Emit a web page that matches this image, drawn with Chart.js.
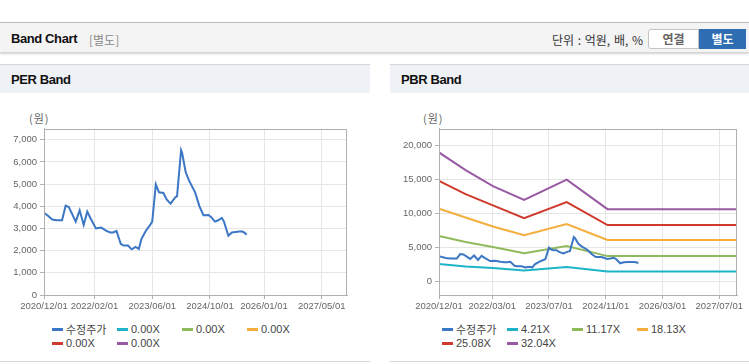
<!DOCTYPE html>
<html><head><meta charset="utf-8">
<script src="https://cdn.jsdelivr.net/npm/chart.js@4.4.1/dist/chart.umd.min.js"></script>
<style>
body{margin:0;width:749px;height:364px;overflow:hidden;background:#fff;font-family:"Liberation Sans","Noto Sans CJK KR",sans-serif;position:relative}
.abs{position:absolute}
.topline{left:0;top:22px;width:749px;height:1px;background:#bdbdbd}
.hdr{left:0;top:23px;width:749px;height:29px;background:#f4f4f4;box-shadow:0 2px 2px rgba(0,0,0,0.18)}
.ttl{left:11px;top:30px;font-weight:bold;font-size:13px;letter-spacing:-0.4px;color:#111;line-height:18px}
.sub{left:89px;top:31px;font-size:12px;color:#8a8a8a;line-height:18px;font-family:"Noto Sans CJK KR",sans-serif}
.unit{left:552px;top:31px;font-size:12px;color:#333;line-height:18px;font-family:"Noto Sans CJK KR",sans-serif;word-spacing:1px}
.b1{left:648px;top:29px;width:49px;height:18px;border:1px solid #c3c3c3;border-radius:3px 0 0 3px;background:#fff;color:#666;font-weight:bold;font-size:12px;text-align:center;line-height:18px;font-family:"Noto Sans CJK KR",sans-serif}
.b2{left:699px;top:29px;width:47px;height:20px;background:#2f6db3;color:#fff;font-weight:bold;font-size:12px;text-align:center;line-height:20px;font-family:"Noto Sans CJK KR",sans-serif}
.ptb{top:64px;height:28px;background:#eef1f6;border-top:1px solid #d6d6d6}
.ptt{top:71px;font-weight:bold;font-size:13px;letter-spacing:-0.4px;color:#111;line-height:18px}
.pbl{top:361px;height:1px;background:#d9d9d9}
.unitw{top:110px;font-size:11px;color:#666;font-family:"Noto Sans CJK KR",sans-serif;line-height:16px;letter-spacing:1px}
.leg{top:323px;display:grid;grid-template-columns:65px 65px 65px 65px;row-gap:0px;font-size:11px;color:#444;line-height:13.5px}
.li{display:flex;align-items:center;white-space:nowrap}
.sw{width:11px;height:3px;margin-right:3px;flex:none}
</style></head>
<body>
<div class="abs topline"></div>
<div class="abs hdr"></div>
<div class="abs ttl">Band Chart</div>
<div class="abs sub">[별도]</div>
<div class="abs unit">단위 : 억원, 배, %</div>
<div class="abs b1">연결</div>
<div class="abs b2">별도</div>

<div class="abs ptb" style="left:0;width:370px"></div>
<div class="abs ptt" style="left:11px">PER Band</div>
<div class="abs ptb" style="left:390px;width:359px"></div>
<div class="abs ptt" style="left:401px">PBR Band</div>

<div class="abs unitw" style="left:29px">(원)</div>
<div class="abs unitw" style="left:423px">(원)</div>

<canvas id="per" class="abs" style="left:0;top:120px" width="370" height="200"></canvas>
<canvas id="pbr" class="abs" style="left:390px;top:120px" width="359" height="200"></canvas>

<div id="perLeg" class="abs leg" style="left:52px"></div>
<div id="pbrLeg" class="abs leg" style="left:442px"></div>

<div class="abs pbl" style="left:0;width:370px"></div>
<div class="abs pbl" style="left:390px;width:359px"></div>

<script>
// ---- data ----
const priceLabel = '수정주가';
const priceDates = ['2020/12/07','2021/01/04','2021/02/10','2021/03/13','2021/05/01','2021/06/01','2021/06/28','2021/08/25','2021/09/28','2021/11/01','2021/12/01','2021/12/28','2022/02/13','2022/03/28','2022/05/10','2022/06/13','2022/07/07','2022/08/04','2022/09/10','2022/10/04','2022/11/10','2022/12/10','2023/01/13','2023/02/10','2023/03/01','2023/04/07','2023/05/13','2023/06/01','2023/07/01','2023/07/28','2023/09/04','2023/10/01','2023/11/04','2023/12/10','2023/12/28','2024/02/01','2024/02/10','2024/03/10','2024/04/07','2024/05/28','2024/07/04','2024/08/07','2024/09/19','2024/10/10','2024/11/13','2024/12/10','2025/01/10','2025/01/28','2025/03/04','2025/04/04','2025/05/19','2025/06/25','2025/07/16','2025/08/07'];
const priceValues = [3690,3570,3400,3370,3370,4030,3970,3310,3820,3160,3760,3460,3000,3040,2890,2820,2820,2890,2300,2230,2230,2060,2170,2080,2520,2890,3150,3310,4985,4630,4600,4310,4120,4390,4460,6530,6400,5530,5170,4630,4000,3600,3610,3520,3310,3370,3480,3310,2670,2820,2850,2870,2820,2720];

const perBandLabels = ['0.00X','0.00X','0.00X','0.00X','0.00X'];

const pbrBandLabels = ['4.21X','11.17X','18.13X','25.08X','32.04X'];
const bandDates = ['2020/12/01','2021/07/16','2022/03/07','2022/12/01','2023/12/01','2024/11/16','2027/12/01'];
const band1 = [2580,2200,1960,1620,2110,1480,1480];
const band2 = [6700,5800,5060,4150,5230,3730,3730];
const band3 = [10700,9420,8100,6800,8450,6100,6100];
const band4 = [14800,12850,11200,9300,11700,8300,8300];
const band5 = [19000,16400,14050,12000,15000,10650,10650];

const xStart = '2020/12/01', xEnd = '2027/12/01';
const perXTicks = ['2020/12/01','2022/02/01','2023/06/01','2024/10/01','2026/01/01','2027/05/01'];
const pbrXTicks = ['2020/12/01','2022/03/01','2023/07/01','2024/11/01','2026/03/01','2027/07/01'];
const perYTicks = [0,1000,2000,3000,4000,5000,6000,7000];
const pbrYTicks = [0,5000,10000,15000,20000];

const colors = ['#3b77c4','#1db4c8','#8fba5b','#f4ae3d','#cf3a2c','#985aa3'];

// ---- helpers ----
function toM(s){const [y,m,d]=s.split('/').map(Number);return (y-2020)*12+(m-12)+(d-1)/30.4;}
function pts(dates, vals){return dates.map((d,i)=>({x:toM(d),y:vals[i]}));}

const boxPlugin = {id:'box',afterDraw(c){const a=c.chartArea,ctx=c.ctx;ctx.save();ctx.strokeStyle='#b0b0b0';ctx.lineWidth=1;ctx.strokeRect(Math.round(a.left)+0.5,Math.round(a.top)+0.5,Math.round(a.right-a.left)-1,Math.round(a.bottom-a.top));ctx.restore();}};

function makeChart(id, datasets, xTicks, yTicks, yMin, yMax, yW, padR){
  const tickFont={family:'"Liberation Sans", sans-serif',size:9.5};
  return new Chart(document.getElementById(id),{
    type:'line',
    data:{datasets},
    options:{
      responsive:false,animation:false,devicePixelRatio:1,
      layout:{padding:{top:8,right:padR,left:0,bottom:0}},
      plugins:{legend:{display:false},tooltip:{enabled:false}},
      elements:{point:{radius:0},line:{borderWidth:2,tension:0}},
      scales:{
        x:{type:'linear',min:toM(xStart),max:toM(xEnd),
          afterBuildTicks:s=>{s.ticks=xTicks.map(t=>({value:toM(t)}));},
          afterFit:s=>{s.height=25;},
          ticks:{autoSkip:false,maxRotation:0,padding:2,color:'#666',font:tickFont,
            callback:(v,i)=>xTicks[i]},
          grid:{color:'#e6e6e6',tickLength:4,tickColor:'#b0b0b0'},
          border:{color:'#b0b0b0'}},
        y:{min:yMin,max:yMax,
          afterBuildTicks:s=>{s.ticks=yTicks.map(t=>({value:t}));},
          afterFit:s=>{s.width=yW;},
          ticks:{padding:3,color:'#666',font:tickFont,callback:v=>v.toLocaleString('en-US')},
          grid:{color:'#e6e6e6',tickLength:4,tickColor:'#b0b0b0'},
          border:{color:'#b0b0b0'}}
      }
    },
    plugins:[boxPlugin]
  });
}

function legend(id, chart){
  const el=document.getElementById(id);
  chart.data.datasets.forEach(ds=>{
    const it=document.createElement('div');it.className='li';
    const sw=document.createElement('span');sw.className='sw';sw.style.background=ds.borderColor;
    const tx=document.createElement('span');tx.textContent=ds.label;
    if(/[\uAC00-\uD7A3]/.test(ds.label)) tx.style.fontFamily='"Noto Sans CJK KR",sans-serif';
    it.appendChild(sw);it.appendChild(tx);el.appendChild(it);
  });
}

const perSets=[{label:priceLabel,data:pts(priceDates,priceValues),borderColor:colors[0]}]
  .concat(perBandLabels.map((l,i)=>({label:l,data:[],borderColor:colors[i+1]})));
const pbrBands=[band1,band2,band3,band4,band5];
const pbrSets=[{label:priceLabel,data:pts(priceDates,priceValues),borderColor:colors[0]}]
  .concat(pbrBandLabels.map((l,i)=>({label:l,data:pts(bandDates,pbrBands[i]),borderColor:colors[i+1]})));

const perChart=makeChart('per',perSets,perXTicks,perYTicks,0,7500,44,23);
const pbrChart=makeChart('pbr',pbrSets,pbrXTicks,pbrYTicks,-2000,22500,49,12);
legend('perLeg',perChart);
legend('pbrLeg',pbrChart);
</script>
</body></html>
